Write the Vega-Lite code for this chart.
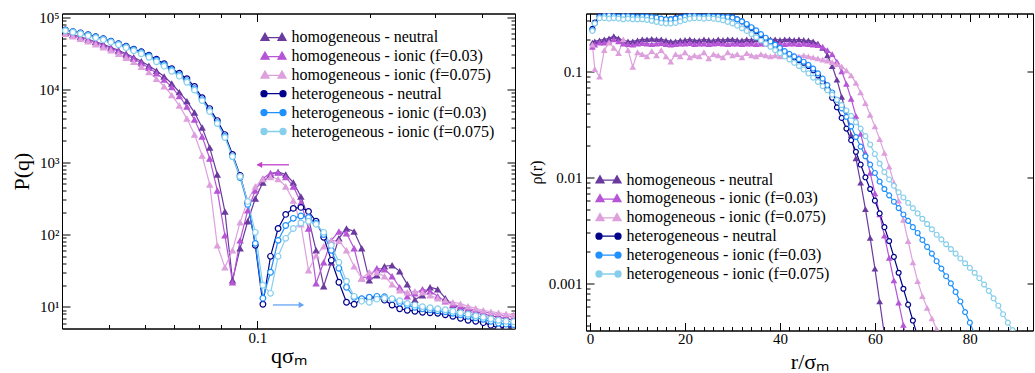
{
"$schema":"https://vega.github.io/schema/vega-lite/v6.json",
"background":"white",
"padding":{"left":9,"top":6.5,"right":0,"bottom":0},
"spacing":11,
"columns":2,
"align":"none",
"config":{
"font":"Liberation Serif",
"view":{"stroke":"black","strokeWidth":1},
"axis":{"domainColor":"black","domainWidth":1,"tickColor":"black","tickWidth":1,"labelColor":"black","titleColor":"black","labelFont":"Liberation Serif","titleFont":"Liberation Serif","labelFontSize":15,"titleFontSize":22,"titleFontWeight":"normal","grid":false,"labelOverlap":false,"labelFlush":false},
"legend":{"labelFont":"Liberation Serif","labelFontSize":16,"labelColor":"black","labelLimit":0}
},
"resolve":{"legend":{"color":"independent"}},
"datasets":{
"L":[
{"s":"h0","x":0.03062,"y":60800},{"s":"h0","x":0.03209,"y":57000},{"s":"h0","x":0.03363,"y":53500},{"s":"h0","x":0.03524,"y":49500},{"s":"h0","x":0.03693,"y":45700},{"s":"h0","x":0.0387,"y":42200},{"s":"h0","x":0.04056,"y":38400},{"s":"h0","x":0.04251,"y":34900},{"s":"h0","x":0.04455,"y":31200},{"s":"h0","x":0.04668,"y":27900},{"s":"h0","x":0.04892,"y":24600},{"s":"h0","x":0.05127,"y":21300},{"s":"h0","x":0.05373,"y":18200},{"s":"h0","x":0.05631,"y":15100},{"s":"h0","x":0.05901,"y":12100},{"s":"h0","x":0.06184,"y":9210},{"s":"h0","x":0.0648,"y":6920},{"s":"h0","x":0.06791,"y":4810},{"s":"h0","x":0.07117,"y":2990},{"s":"h0","x":0.07459,"y":1580},{"s":"h0","x":0.07816,"y":673},{"s":"h0","x":0.08191,"y":208},{"s":"h0","x":0.08584,"y":23.3},{"s":"h0","x":0.08996,"y":64.4},{"s":"h0","x":0.09428,"y":152},{"s":"h0","x":0.0988,"y":314},{"s":"h0","x":0.10354,"y":522},{"s":"h0","x":0.10851,"y":673},{"s":"h0","x":0.11371,"y":728},{"s":"h0","x":0.11917,"y":673},{"s":"h0","x":0.12489,"y":522},{"s":"h0","x":0.13088,"y":335},{"s":"h0","x":0.13716,"y":167},{"s":"h0","x":0.14373,"y":60.4},{"s":"h0","x":0.15063,"y":19.3},{"s":"h0","x":0.15786,"y":41.3},{"s":"h0","x":0.16543,"y":88.4},{"s":"h0","x":0.17336,"y":121},{"s":"h0","x":0.18168,"y":110},{"s":"h0","x":0.1904,"y":64.4},{"s":"h0","x":0.19953,"y":23.3},{"s":"h0","x":0.2091,"y":27.3},{"s":"h0","x":0.21914,"y":36.4},{"s":"h0","x":0.22965,"y":37.5},{"s":"h0","x":0.24067,"y":31},{"s":"h0","x":0.25221,"y":20.5},{"s":"h0","x":0.26431,"y":12.6},{"s":"h0","x":0.27699,"y":14.5},{"s":"h0","x":0.29028,"y":18.7},{"s":"h0","x":0.30421,"y":17.5},{"s":"h0","x":0.3188,"y":13.2},{"s":"h0","x":0.33409,"y":10.6},{"s":"h0","x":0.35012,"y":9.75},{"s":"h0","x":0.36692,"y":9.15},{"s":"h0","x":0.38452,"y":8.59},{"s":"h0","x":0.40297,"y":8.06},{"s":"h0","x":0.4223,"y":7.56},{"s":"h0","x":0.44256,"y":7.21},{"s":"h0","x":0.46379,"y":6.88},{"s":"h0","x":0.48604,"y":6.56},{"s":"h0","x":0.50935,"y":6.25},
{"s":"h3","x":0.03062,"y":59800},{"s":"h3","x":0.03209,"y":56100},{"s":"h3","x":0.03363,"y":52700},{"s":"h3","x":0.03524,"y":48700},{"s":"h3","x":0.03693,"y":45000},{"s":"h3","x":0.0387,"y":40900},{"s":"h3","x":0.04056,"y":37200},{"s":"h3","x":0.04251,"y":33800},{"s":"h3","x":0.04455,"y":29800},{"s":"h3","x":0.04668,"y":26600},{"s":"h3","x":0.04892,"y":23100},{"s":"h3","x":0.05127,"y":20000},{"s":"h3","x":0.05373,"y":16800},{"s":"h3","x":0.05631,"y":13700},{"s":"h3","x":0.05901,"y":10800},{"s":"h3","x":0.06184,"y":8110},{"s":"h3","x":0.0648,"y":5810},{"s":"h3","x":0.06791,"y":3850},{"s":"h3","x":0.07117,"y":2250},{"s":"h3","x":0.07459,"y":1120},{"s":"h3","x":0.07816,"y":405},{"s":"h3","x":0.08191,"y":97.2},{"s":"h3","x":0.08584,"y":21.9},{"s":"h3","x":0.08996,"y":82.9},{"s":"h3","x":0.09428,"y":215},{"s":"h3","x":0.0988,"y":405},{"s":"h3","x":0.10354,"y":593},{"s":"h3","x":0.10851,"y":705},{"s":"h3","x":0.11371,"y":717},{"s":"h3","x":0.11917,"y":622},{"s":"h3","x":0.12489,"y":460},{"s":"h3","x":0.13088,"y":277},{"s":"h3","x":0.13716,"y":121},{"s":"h3","x":0.14373,"y":21.2},{"s":"h3","x":0.15063,"y":41.3},{"s":"h3","x":0.15786,"y":82.9},{"s":"h3","x":0.16543,"y":110},{"s":"h3","x":0.17336,"y":104},{"s":"h3","x":0.18168,"y":64.4},{"s":"h3","x":0.1904,"y":24.9},{"s":"h3","x":0.19953,"y":26.5},{"s":"h3","x":0.2091,"y":34.1},{"s":"h3","x":0.21914,"y":33.1},{"s":"h3","x":0.22965,"y":26.5},{"s":"h3","x":0.24067,"y":18.7},{"s":"h3","x":0.25221,"y":14},{"s":"h3","x":0.26431,"y":15.4},{"s":"h3","x":0.27699,"y":17.5},{"s":"h3","x":0.29028,"y":16.5},{"s":"h3","x":0.30421,"y":14},{"s":"h3","x":0.3188,"y":12},{"s":"h3","x":0.33409,"y":10.9},{"s":"h3","x":0.35012,"y":10.2},{"s":"h3","x":0.36692,"y":9.6},{"s":"h3","x":0.38452,"y":9.01},{"s":"h3","x":0.40297,"y":8.59},{"s":"h3","x":0.4223,"y":8.19},{"s":"h3","x":0.44256,"y":7.81},{"s":"h3","x":0.46379,"y":7.56},{"s":"h3","x":0.48604,"y":7.33},{"s":"h3","x":0.50935,"y":7.1},
{"s":"h7","x":0.03062,"y":58900},{"s":"h7","x":0.03209,"y":54400},{"s":"h7","x":0.03363,"y":50200},{"s":"h7","x":0.03524,"y":46400},{"s":"h7","x":0.03693,"y":42200},{"s":"h7","x":0.0387,"y":38400},{"s":"h7","x":0.04056,"y":34900},{"s":"h7","x":0.04251,"y":31200},{"s":"h7","x":0.04455,"y":27500},{"s":"h7","x":0.04668,"y":24200},{"s":"h7","x":0.04892,"y":20700},{"s":"h7","x":0.05127,"y":17400},{"s":"h7","x":0.05373,"y":14100},{"s":"h7","x":0.05631,"y":11100},{"s":"h7","x":0.05901,"y":8370},{"s":"h7","x":0.06184,"y":6000},{"s":"h7","x":0.0648,"y":3970},{"s":"h7","x":0.06791,"y":2390},{"s":"h7","x":0.07117,"y":1230},{"s":"h7","x":0.07459,"y":490},{"s":"h7","x":0.07816,"y":70.8},{"s":"h7","x":0.08191,"y":35.2},{"s":"h7","x":0.08584,"y":60.4},{"s":"h7","x":0.08996,"y":147},{"s":"h7","x":0.09428,"y":295},{"s":"h7","x":0.0988,"y":460},{"s":"h7","x":0.10354,"y":583},{"s":"h7","x":0.10851,"y":622},{"s":"h7","x":0.11371,"y":583},{"s":"h7","x":0.11917,"y":460},{"s":"h7","x":0.12489,"y":295},{"s":"h7","x":0.13088,"y":138},{"s":"h7","x":0.13716,"y":32},{"s":"h7","x":0.14373,"y":51.5},{"s":"h7","x":0.15063,"y":68.6},{"s":"h7","x":0.15786,"y":82.9},{"s":"h7","x":0.16543,"y":81.6},{"s":"h7","x":0.17336,"y":60.4},{"s":"h7","x":0.18168,"y":36.4},{"s":"h7","x":0.1904,"y":24.9},{"s":"h7","x":0.19953,"y":30.1},{"s":"h7","x":0.2091,"y":30.1},{"s":"h7","x":0.21914,"y":26.5},{"s":"h7","x":0.22965,"y":20.5},{"s":"h7","x":0.24067,"y":17},{"s":"h7","x":0.25221,"y":15.9},{"s":"h7","x":0.26431,"y":16.5},{"s":"h7","x":0.27699,"y":15.9},{"s":"h7","x":0.29028,"y":14.5},{"s":"h7","x":0.30421,"y":13.2},{"s":"h7","x":0.3188,"y":12.4},{"s":"h7","x":0.33409,"y":11.6},{"s":"h7","x":0.35012,"y":11.1},{"s":"h7","x":0.36692,"y":10.2},{"s":"h7","x":0.38452,"y":9.6},{"s":"h7","x":0.40297,"y":9.01},{"s":"h7","x":0.4223,"y":8.59},{"s":"h7","x":0.44256,"y":8.32},{"s":"h7","x":0.46379,"y":8.06},{"s":"h7","x":0.48604,"y":7.81},{"s":"h7","x":0.50935,"y":7.69},
{"s":"e0","x":0.03062,"y":66200},{"s":"e0","x":0.03209,"y":63100},{"s":"e0","x":0.03363,"y":60200},{"s":"e0","x":0.03524,"y":57000},{"s":"e0","x":0.03693,"y":53500},{"s":"e0","x":0.0387,"y":50200},{"s":"e0","x":0.04056,"y":46400},{"s":"e0","x":0.04251,"y":42900},{"s":"e0","x":0.04455,"y":39600},{"s":"e0","x":0.04668,"y":36000},{"s":"e0","x":0.04892,"y":33300},{"s":"e0","x":0.05127,"y":29800},{"s":"e0","x":0.05373,"y":26200},{"s":"e0","x":0.05631,"y":22700},{"s":"e0","x":0.05901,"y":19400},{"s":"e0","x":0.06184,"y":16800},{"s":"e0","x":0.0648,"y":14100},{"s":"e0","x":0.06791,"y":11000},{"s":"e0","x":0.07117,"y":7730},{"s":"e0","x":0.07459,"y":5460},{"s":"e0","x":0.07816,"y":3730},{"s":"e0","x":0.08191,"y":2390},{"s":"e0","x":0.08584,"y":1270},{"s":"e0","x":0.08996,"y":652},{"s":"e0","x":0.09428,"y":277},{"s":"e0","x":0.0988,"y":70.8},{"s":"e0","x":0.10354,"y":10.9},{"s":"e0","x":0.10851,"y":49.9},{"s":"e0","x":0.11371,"y":121},{"s":"e0","x":0.11917,"y":189},{"s":"e0","x":0.12489,"y":229},{"s":"e0","x":0.13088,"y":236},{"s":"e0","x":0.13716,"y":208},{"s":"e0","x":0.14373,"y":152},{"s":"e0","x":0.15063,"y":91.2},{"s":"e0","x":0.15786,"y":44},{"s":"e0","x":0.16543,"y":21.9},{"s":"e0","x":0.17336,"y":11.6},{"s":"e0","x":0.18168,"y":10.9},{"s":"e0","x":0.1904,"y":12.8},{"s":"e0","x":0.19953,"y":13.4},{"s":"e0","x":0.2091,"y":13.4},{"s":"e0","x":0.21914,"y":12.4},{"s":"e0","x":0.22965,"y":10.6},{"s":"e0","x":0.24067,"y":9.45},{"s":"e0","x":0.25221,"y":9.01},{"s":"e0","x":0.26431,"y":8.73},{"s":"e0","x":0.27699,"y":8.45},{"s":"e0","x":0.29028,"y":8.32},{"s":"e0","x":0.30421,"y":8.19},{"s":"e0","x":0.3188,"y":7.81},{"s":"e0","x":0.33409,"y":7.44},{"s":"e0","x":0.35012,"y":6.99},{"s":"e0","x":0.36692,"y":6.56},{"s":"e0","x":0.38452,"y":6.35},{"s":"e0","x":0.40297,"y":6.06},{"s":"e0","x":0.4223,"y":5.6},{"s":"e0","x":0.44256,"y":5.09},{"s":"e0","x":0.46379,"y":5.25},{"s":"e0","x":0.48604,"y":5.34},{"s":"e0","x":0.50935,"y":5.25},
{"s":"e3","x":0.03062,"y":65800},{"s":"e3","x":0.03209,"y":62700},{"s":"e3","x":0.03363,"y":59800},{"s":"e3","x":0.03524,"y":56500},{"s":"e3","x":0.03693,"y":53000},{"s":"e3","x":0.0387,"y":49800},{"s":"e3","x":0.04056,"y":46000},{"s":"e3","x":0.04251,"y":42500},{"s":"e3","x":0.04455,"y":39000},{"s":"e3","x":0.04668,"y":35400},{"s":"e3","x":0.04892,"y":32500},{"s":"e3","x":0.05127,"y":29000},{"s":"e3","x":0.05373,"y":25400},{"s":"e3","x":0.05631,"y":22000},{"s":"e3","x":0.05901,"y":18800},{"s":"e3","x":0.06184,"y":16000},{"s":"e3","x":0.0648,"y":13300},{"s":"e3","x":0.06791,"y":10300},{"s":"e3","x":0.07117,"y":7260},{"s":"e3","x":0.07459,"y":5120},{"s":"e3","x":0.07816,"y":3500},{"s":"e3","x":0.08191,"y":2250},{"s":"e3","x":0.08584,"y":1190},{"s":"e3","x":0.08996,"y":612},{"s":"e3","x":0.09428,"y":260},{"s":"e3","x":0.0988,"y":75.4},{"s":"e3","x":0.10354,"y":13.2},{"s":"e3","x":0.10851,"y":30.1},{"s":"e3","x":0.11371,"y":82.9},{"s":"e3","x":0.11917,"y":133},{"s":"e3","x":0.12489,"y":167},{"s":"e3","x":0.13088,"y":180},{"s":"e3","x":0.13716,"y":172},{"s":"e3","x":0.14373,"y":142},{"s":"e3","x":0.15063,"y":100},{"s":"e3","x":0.15786,"y":60.4},{"s":"e3","x":0.16543,"y":34.1},{"s":"e3","x":0.17336,"y":18.7},{"s":"e3","x":0.18168,"y":13.6},{"s":"e3","x":0.1904,"y":13},{"s":"e3","x":0.19953,"y":13.6},{"s":"e3","x":0.2091,"y":14},{"s":"e3","x":0.21914,"y":13.8},{"s":"e3","x":0.22965,"y":12.8},{"s":"e3","x":0.24067,"y":11.4},{"s":"e3","x":0.25221,"y":10.6},{"s":"e3","x":0.26431,"y":9.91},{"s":"e3","x":0.27699,"y":9.45},{"s":"e3","x":0.29028,"y":9.15},{"s":"e3","x":0.30421,"y":8.87},{"s":"e3","x":0.3188,"y":8.59},{"s":"e3","x":0.33409,"y":8.19},{"s":"e3","x":0.35012,"y":7.81},{"s":"e3","x":0.36692,"y":7.44},{"s":"e3","x":0.38452,"y":7.1},{"s":"e3","x":0.40297,"y":6.77},{"s":"e3","x":0.4223,"y":6.35},{"s":"e3","x":0.44256,"y":5.96},{"s":"e3","x":0.46379,"y":5.78},{"s":"e3","x":0.48604,"y":5.7},{"s":"e3","x":0.50935,"y":5.6},
{"s":"e7","x":0.03062,"y":64800},{"s":"e7","x":0.03209,"y":61800},{"s":"e7","x":0.03363,"y":58900},{"s":"e7","x":0.03524,"y":55300},{"s":"e7","x":0.03693,"y":51900},{"s":"e7","x":0.0387,"y":48700},{"s":"e7","x":0.04056,"y":45000},{"s":"e7","x":0.04251,"y":41500},{"s":"e7","x":0.04455,"y":37800},{"s":"e7","x":0.04668,"y":34300},{"s":"e7","x":0.04892,"y":31200},{"s":"e7","x":0.05127,"y":27900},{"s":"e7","x":0.05373,"y":24200},{"s":"e7","x":0.05631,"y":21000},{"s":"e7","x":0.05901,"y":17900},{"s":"e7","x":0.06184,"y":15300},{"s":"e7","x":0.0648,"y":12600},{"s":"e7","x":0.06791,"y":9810},{"s":"e7","x":0.07117,"y":7030},{"s":"e7","x":0.07459,"y":4960},{"s":"e7","x":0.07816,"y":3390},{"s":"e7","x":0.08191,"y":2180},{"s":"e7","x":0.08584,"y":1190},{"s":"e7","x":0.08996,"y":631},{"s":"e7","x":0.09428,"y":286},{"s":"e7","x":0.0988,"y":107},{"s":"e7","x":0.10354,"y":19.9},{"s":"e7","x":0.10851,"y":15.4},{"s":"e7","x":0.11371,"y":49.9},{"s":"e7","x":0.11917,"y":88.4},{"s":"e7","x":0.12489,"y":121},{"s":"e7","x":0.13088,"y":144},{"s":"e7","x":0.13716,"y":152},{"s":"e7","x":0.14373,"y":138},{"s":"e7","x":0.15063,"y":107},{"s":"e7","x":0.15786,"y":70.8},{"s":"e7","x":0.16543,"y":41.3},{"s":"e7","x":0.17336,"y":22.6},{"s":"e7","x":0.18168,"y":14},{"s":"e7","x":0.1904,"y":12},{"s":"e7","x":0.19953,"y":11.6},{"s":"e7","x":0.2091,"y":12.8},{"s":"e7","x":0.21914,"y":13.2},{"s":"e7","x":0.22965,"y":13},{"s":"e7","x":0.24067,"y":12.2},{"s":"e7","x":0.25221,"y":11.2},{"s":"e7","x":0.26431,"y":10.6},{"s":"e7","x":0.27699,"y":10.1},{"s":"e7","x":0.29028,"y":9.75},{"s":"e7","x":0.30421,"y":9.45},{"s":"e7","x":0.3188,"y":9.15},{"s":"e7","x":0.33409,"y":8.73},{"s":"e7","x":0.35012,"y":8.32},{"s":"e7","x":0.36692,"y":7.93},{"s":"e7","x":0.38452,"y":7.56},{"s":"e7","x":0.40297,"y":7.21},{"s":"e7","x":0.4223,"y":6.88},{"s":"e7","x":0.44256,"y":6.56},{"s":"e7","x":0.46379,"y":6.35},{"s":"e7","x":0.48604,"y":6.25},{"s":"e7","x":0.50935,"y":6.16}
],
"R":[
{"s":"h0","x":0.5,"y":0.186},{"s":"h0","x":1,"y":0.191},{"s":"h0","x":2,"y":0.195},{"s":"h0","x":3,"y":0.2},{"s":"h0","x":4,"y":0.204},{"s":"h0","x":5,"y":0.214},{"s":"h0","x":6,"y":0.204},{"s":"h0","x":7,"y":0.195},{"s":"h0","x":8,"y":0.191},{"s":"h0","x":9,"y":0.191},{"s":"h0","x":10,"y":0.195},{"s":"h0","x":11,"y":0.2},{"s":"h0","x":12,"y":0.2},{"s":"h0","x":13,"y":0.202},{"s":"h0","x":14,"y":0.2},{"s":"h0","x":15,"y":0.2},{"s":"h0","x":16,"y":0.195},{"s":"h0","x":17,"y":0.191},{"s":"h0","x":18,"y":0.191},{"s":"h0","x":19,"y":0.195},{"s":"h0","x":20,"y":0.197},{"s":"h0","x":21,"y":0.2},{"s":"h0","x":22,"y":0.195},{"s":"h0","x":23,"y":0.195},{"s":"h0","x":24,"y":0.2},{"s":"h0","x":25,"y":0.197},{"s":"h0","x":26,"y":0.195},{"s":"h0","x":27,"y":0.2},{"s":"h0","x":28,"y":0.197},{"s":"h0","x":29,"y":0.2},{"s":"h0","x":30,"y":0.2},{"s":"h0","x":31,"y":0.197},{"s":"h0","x":32,"y":0.195},{"s":"h0","x":33,"y":0.2},{"s":"h0","x":34,"y":0.197},{"s":"h0","x":35,"y":0.2},{"s":"h0","x":36,"y":0.2},{"s":"h0","x":37,"y":0.197},{"s":"h0","x":38,"y":0.2},{"s":"h0","x":39,"y":0.2},{"s":"h0","x":40,"y":0.197},{"s":"h0","x":41,"y":0.2},{"s":"h0","x":42,"y":0.2},{"s":"h0","x":43,"y":0.197},{"s":"h0","x":44,"y":0.2},{"s":"h0","x":45,"y":0.197},{"s":"h0","x":46,"y":0.195},{"s":"h0","x":47,"y":0.191},{"s":"h0","x":48,"y":0.182},{"s":"h0","x":49,"y":0.166},{"s":"h0","x":50,"y":0.141},{"s":"h0","x":51,"y":0.112},{"s":"h0","x":52,"y":0.0832},{"s":"h0","x":53,"y":0.0575},{"s":"h0","x":54,"y":0.0389},{"s":"h0","x":55,"y":0.0251},{"s":"h0","x":56,"y":0.0151},{"s":"h0","x":57,"y":0.00891},{"s":"h0","x":58,"y":0.00501},{"s":"h0","x":59,"y":0.00269},{"s":"h0","x":60,"y":0.00138},{"s":"h0","x":61,"y":0.000676},{"s":"h0","x":62,"y":0.000331},
{"s":"h3","x":0.5,"y":0.17},{"s":"h3","x":1,"y":0.178},{"s":"h3","x":2,"y":0.186},{"s":"h3","x":3,"y":0.186},{"s":"h3","x":4,"y":0.191},{"s":"h3","x":5,"y":0.2},{"s":"h3","x":6,"y":0.191},{"s":"h3","x":7,"y":0.182},{"s":"h3","x":8,"y":0.18},{"s":"h3","x":9,"y":0.178},{"s":"h3","x":10,"y":0.182},{"s":"h3","x":11,"y":0.184},{"s":"h3","x":12,"y":0.182},{"s":"h3","x":13,"y":0.18},{"s":"h3","x":14,"y":0.182},{"s":"h3","x":15,"y":0.184},{"s":"h3","x":16,"y":0.18},{"s":"h3","x":17,"y":0.178},{"s":"h3","x":18,"y":0.18},{"s":"h3","x":19,"y":0.182},{"s":"h3","x":20,"y":0.182},{"s":"h3","x":21,"y":0.184},{"s":"h3","x":22,"y":0.18},{"s":"h3","x":23,"y":0.182},{"s":"h3","x":24,"y":0.182},{"s":"h3","x":25,"y":0.18},{"s":"h3","x":26,"y":0.182},{"s":"h3","x":27,"y":0.184},{"s":"h3","x":28,"y":0.182},{"s":"h3","x":29,"y":0.18},{"s":"h3","x":30,"y":0.182},{"s":"h3","x":31,"y":0.182},{"s":"h3","x":32,"y":0.18},{"s":"h3","x":33,"y":0.182},{"s":"h3","x":34,"y":0.182},{"s":"h3","x":35,"y":0.18},{"s":"h3","x":36,"y":0.182},{"s":"h3","x":37,"y":0.182},{"s":"h3","x":38,"y":0.18},{"s":"h3","x":39,"y":0.182},{"s":"h3","x":40,"y":0.182},{"s":"h3","x":41,"y":0.18},{"s":"h3","x":42,"y":0.182},{"s":"h3","x":43,"y":0.182},{"s":"h3","x":44,"y":0.18},{"s":"h3","x":45,"y":0.182},{"s":"h3","x":46,"y":0.18},{"s":"h3","x":47,"y":0.178},{"s":"h3","x":48,"y":0.176},{"s":"h3","x":49,"y":0.17},{"s":"h3","x":50,"y":0.158},{"s":"h3","x":51,"y":0.145},{"s":"h3","x":52,"y":0.123},{"s":"h3","x":53,"y":0.1},{"s":"h3","x":54,"y":0.0759},{"s":"h3","x":55,"y":0.055},{"s":"h3","x":56,"y":0.038},{"s":"h3","x":57,"y":0.0257},{"s":"h3","x":58,"y":0.017},{"s":"h3","x":59,"y":0.011},{"s":"h3","x":60,"y":0.00708},{"s":"h3","x":61,"y":0.00447},{"s":"h3","x":62,"y":0.00282},{"s":"h3","x":63,"y":0.00174},{"s":"h3","x":64,"y":0.00107},{"s":"h3","x":65,"y":0.000661},{"s":"h3","x":66,"y":0.000407},{"s":"h3","x":67,"y":0.000251},
{"s":"h7","x":0.5,"y":0.178},{"s":"h7","x":1,"y":0.105},{"s":"h7","x":2,"y":0.0891},{"s":"h7","x":3,"y":0.158},{"s":"h7","x":4,"y":0.186},{"s":"h7","x":5,"y":0.166},{"s":"h7","x":6,"y":0.148},{"s":"h7","x":7,"y":0.2},{"s":"h7","x":8,"y":0.158},{"s":"h7","x":9,"y":0.11},{"s":"h7","x":10,"y":0.151},{"s":"h7","x":11,"y":0.145},{"s":"h7","x":12,"y":0.138},{"s":"h7","x":13,"y":0.155},{"s":"h7","x":14,"y":0.141},{"s":"h7","x":15,"y":0.158},{"s":"h7","x":16,"y":0.138},{"s":"h7","x":17,"y":0.123},{"s":"h7","x":18,"y":0.145},{"s":"h7","x":19,"y":0.138},{"s":"h7","x":20,"y":0.151},{"s":"h7","x":21,"y":0.135},{"s":"h7","x":22,"y":0.141},{"s":"h7","x":23,"y":0.138},{"s":"h7","x":24,"y":0.151},{"s":"h7","x":25,"y":0.132},{"s":"h7","x":26,"y":0.145},{"s":"h7","x":27,"y":0.141},{"s":"h7","x":28,"y":0.135},{"s":"h7","x":29,"y":0.151},{"s":"h7","x":30,"y":0.141},{"s":"h7","x":31,"y":0.145},{"s":"h7","x":32,"y":0.135},{"s":"h7","x":33,"y":0.148},{"s":"h7","x":34,"y":0.141},{"s":"h7","x":35,"y":0.138},{"s":"h7","x":36,"y":0.145},{"s":"h7","x":37,"y":0.141},{"s":"h7","x":38,"y":0.138},{"s":"h7","x":39,"y":0.141},{"s":"h7","x":40,"y":0.138},{"s":"h7","x":41,"y":0.141},{"s":"h7","x":42,"y":0.14},{"s":"h7","x":43,"y":0.141},{"s":"h7","x":44,"y":0.138},{"s":"h7","x":45,"y":0.141},{"s":"h7","x":46,"y":0.138},{"s":"h7","x":47,"y":0.135},{"s":"h7","x":48,"y":0.132},{"s":"h7","x":49,"y":0.129},{"s":"h7","x":50,"y":0.126},{"s":"h7","x":51,"y":0.122},{"s":"h7","x":52,"y":0.117},{"s":"h7","x":53,"y":0.111},{"s":"h7","x":54,"y":0.102},{"s":"h7","x":55,"y":0.0912},{"s":"h7","x":56,"y":0.0776},{"s":"h7","x":57,"y":0.0631},{"s":"h7","x":58,"y":0.0501},{"s":"h7","x":59,"y":0.0389},{"s":"h7","x":60,"y":0.0302},{"s":"h7","x":61,"y":0.0229},{"s":"h7","x":62,"y":0.017},{"s":"h7","x":63,"y":0.0126},{"s":"h7","x":64,"y":0.00891},{"s":"h7","x":65,"y":0.00603},{"s":"h7","x":66,"y":0.00398},{"s":"h7","x":67,"y":0.00251},{"s":"h7","x":68,"y":0.00158},{"s":"h7","x":69,"y":0.00105},{"s":"h7","x":70,"y":0.000759},{"s":"h7","x":71,"y":0.000589},{"s":"h7","x":72,"y":0.000468},{"s":"h7","x":73,"y":0.000372},{"s":"h7","x":74,"y":0.000295},
{"s":"e0","x":0.5,"y":0.251},{"s":"e0","x":1,"y":0.288},{"s":"e0","x":2,"y":0.331},{"s":"e0","x":3,"y":0.339},{"s":"e0","x":4,"y":0.339},{"s":"e0","x":5,"y":0.335},{"s":"e0","x":6,"y":0.331},{"s":"e0","x":7,"y":0.331},{"s":"e0","x":8,"y":0.335},{"s":"e0","x":9,"y":0.331},{"s":"e0","x":10,"y":0.327},{"s":"e0","x":11,"y":0.331},{"s":"e0","x":12,"y":0.331},{"s":"e0","x":13,"y":0.324},{"s":"e0","x":14,"y":0.316},{"s":"e0","x":15,"y":0.309},{"s":"e0","x":16,"y":0.305},{"s":"e0","x":17,"y":0.309},{"s":"e0","x":18,"y":0.316},{"s":"e0","x":19,"y":0.324},{"s":"e0","x":20,"y":0.331},{"s":"e0","x":21,"y":0.335},{"s":"e0","x":22,"y":0.335},{"s":"e0","x":23,"y":0.331},{"s":"e0","x":24,"y":0.331},{"s":"e0","x":25,"y":0.335},{"s":"e0","x":26,"y":0.331},{"s":"e0","x":27,"y":0.331},{"s":"e0","x":28,"y":0.327},{"s":"e0","x":29,"y":0.324},{"s":"e0","x":30,"y":0.324},{"s":"e0","x":31,"y":0.309},{"s":"e0","x":32,"y":0.295},{"s":"e0","x":33,"y":0.275},{"s":"e0","x":34,"y":0.257},{"s":"e0","x":35,"y":0.237},{"s":"e0","x":36,"y":0.219},{"s":"e0","x":37,"y":0.202},{"s":"e0","x":38,"y":0.186},{"s":"e0","x":39,"y":0.174},{"s":"e0","x":40,"y":0.162},{"s":"e0","x":41,"y":0.151},{"s":"e0","x":42,"y":0.143},{"s":"e0","x":43,"y":0.135},{"s":"e0","x":44,"y":0.127},{"s":"e0","x":45,"y":0.12},{"s":"e0","x":46,"y":0.112},{"s":"e0","x":47,"y":0.102},{"s":"e0","x":48,"y":0.0912},{"s":"e0","x":49,"y":0.0794},{"s":"e0","x":50,"y":0.0676},{"s":"e0","x":51,"y":0.0562},{"s":"e0","x":52,"y":0.0457},{"s":"e0","x":53,"y":0.0363},{"s":"e0","x":54,"y":0.0288},{"s":"e0","x":55,"y":0.0224},{"s":"e0","x":56,"y":0.0174},{"s":"e0","x":57,"y":0.0132},{"s":"e0","x":58,"y":0.01},{"s":"e0","x":59,"y":0.00776},{"s":"e0","x":60,"y":0.00603},{"s":"e0","x":61,"y":0.00457},{"s":"e0","x":62,"y":0.00339},{"s":"e0","x":63,"y":0.00251},{"s":"e0","x":64,"y":0.00178},{"s":"e0","x":65,"y":0.00126},{"s":"e0","x":66,"y":0.000891},{"s":"e0","x":67,"y":0.000631},{"s":"e0","x":68,"y":0.000447},{"s":"e0","x":69,"y":0.000316},
{"s":"e3","x":0.5,"y":0.245},{"s":"e3","x":1,"y":0.282},{"s":"e3","x":2,"y":0.324},{"s":"e3","x":3,"y":0.331},{"s":"e3","x":4,"y":0.335},{"s":"e3","x":5,"y":0.331},{"s":"e3","x":6,"y":0.327},{"s":"e3","x":7,"y":0.331},{"s":"e3","x":8,"y":0.331},{"s":"e3","x":9,"y":0.327},{"s":"e3","x":10,"y":0.324},{"s":"e3","x":11,"y":0.327},{"s":"e3","x":12,"y":0.327},{"s":"e3","x":13,"y":0.324},{"s":"e3","x":14,"y":0.32},{"s":"e3","x":15,"y":0.313},{"s":"e3","x":16,"y":0.309},{"s":"e3","x":17,"y":0.309},{"s":"e3","x":18,"y":0.313},{"s":"e3","x":19,"y":0.32},{"s":"e3","x":20,"y":0.327},{"s":"e3","x":21,"y":0.331},{"s":"e3","x":22,"y":0.331},{"s":"e3","x":23,"y":0.327},{"s":"e3","x":24,"y":0.327},{"s":"e3","x":25,"y":0.331},{"s":"e3","x":26,"y":0.327},{"s":"e3","x":27,"y":0.327},{"s":"e3","x":28,"y":0.324},{"s":"e3","x":29,"y":0.324},{"s":"e3","x":30,"y":0.32},{"s":"e3","x":31,"y":0.309},{"s":"e3","x":32,"y":0.295},{"s":"e3","x":33,"y":0.279},{"s":"e3","x":34,"y":0.26},{"s":"e3","x":35,"y":0.243},{"s":"e3","x":36,"y":0.224},{"s":"e3","x":37,"y":0.207},{"s":"e3","x":38,"y":0.191},{"s":"e3","x":39,"y":0.178},{"s":"e3","x":40,"y":0.166},{"s":"e3","x":41,"y":0.155},{"s":"e3","x":42,"y":0.146},{"s":"e3","x":43,"y":0.138},{"s":"e3","x":44,"y":0.13},{"s":"e3","x":45,"y":0.123},{"s":"e3","x":46,"y":0.115},{"s":"e3","x":47,"y":0.106},{"s":"e3","x":48,"y":0.0955},{"s":"e3","x":49,"y":0.0851},{"s":"e3","x":50,"y":0.0741},{"s":"e3","x":51,"y":0.0631},{"s":"e3","x":52,"y":0.0537},{"s":"e3","x":53,"y":0.0447},{"s":"e3","x":54,"y":0.0372},{"s":"e3","x":55,"y":0.0302},{"s":"e3","x":56,"y":0.024},{"s":"e3","x":57,"y":0.0195},{"s":"e3","x":58,"y":0.0158},{"s":"e3","x":59,"y":0.0132},{"s":"e3","x":60,"y":0.011},{"s":"e3","x":61,"y":0.00912},{"s":"e3","x":62,"y":0.00776},{"s":"e3","x":63,"y":0.00676},{"s":"e3","x":64,"y":0.00589},{"s":"e3","x":65,"y":0.00513},{"s":"e3","x":66,"y":0.00447},{"s":"e3","x":67,"y":0.00389},{"s":"e3","x":68,"y":0.00339},{"s":"e3","x":69,"y":0.00299},{"s":"e3","x":70,"y":0.00257},{"s":"e3","x":71,"y":0.00221},{"s":"e3","x":72,"y":0.00191},{"s":"e3","x":73,"y":0.00162},{"s":"e3","x":74,"y":0.00138},{"s":"e3","x":75,"y":0.00117},{"s":"e3","x":76,"y":0.001},{"s":"e3","x":77,"y":0.000832},{"s":"e3","x":78,"y":0.000676},{"s":"e3","x":79,"y":0.000537},{"s":"e3","x":80,"y":0.000427},{"s":"e3","x":81,"y":0.000331},
{"s":"e7","x":0.5,"y":0.24},{"s":"e7","x":1,"y":0.282},{"s":"e7","x":2,"y":0.316},{"s":"e7","x":3,"y":0.316},{"s":"e7","x":4,"y":0.313},{"s":"e7","x":5,"y":0.316},{"s":"e7","x":6,"y":0.313},{"s":"e7","x":7,"y":0.309},{"s":"e7","x":8,"y":0.313},{"s":"e7","x":9,"y":0.309},{"s":"e7","x":10,"y":0.309},{"s":"e7","x":11,"y":0.309},{"s":"e7","x":12,"y":0.305},{"s":"e7","x":13,"y":0.299},{"s":"e7","x":14,"y":0.292},{"s":"e7","x":15,"y":0.285},{"s":"e7","x":16,"y":0.282},{"s":"e7","x":17,"y":0.282},{"s":"e7","x":18,"y":0.285},{"s":"e7","x":19,"y":0.295},{"s":"e7","x":20,"y":0.305},{"s":"e7","x":21,"y":0.313},{"s":"e7","x":22,"y":0.316},{"s":"e7","x":23,"y":0.316},{"s":"e7","x":24,"y":0.313},{"s":"e7","x":25,"y":0.316},{"s":"e7","x":26,"y":0.313},{"s":"e7","x":27,"y":0.309},{"s":"e7","x":28,"y":0.302},{"s":"e7","x":29,"y":0.292},{"s":"e7","x":30,"y":0.282},{"s":"e7","x":31,"y":0.269},{"s":"e7","x":32,"y":0.254},{"s":"e7","x":33,"y":0.24},{"s":"e7","x":34,"y":0.224},{"s":"e7","x":35,"y":0.209},{"s":"e7","x":36,"y":0.195},{"s":"e7","x":37,"y":0.182},{"s":"e7","x":38,"y":0.17},{"s":"e7","x":39,"y":0.158},{"s":"e7","x":40,"y":0.148},{"s":"e7","x":41,"y":0.138},{"s":"e7","x":42,"y":0.129},{"s":"e7","x":43,"y":0.12},{"s":"e7","x":44,"y":0.112},{"s":"e7","x":45,"y":0.104},{"s":"e7","x":46,"y":0.0955},{"s":"e7","x":47,"y":0.0871},{"s":"e7","x":48,"y":0.0794},{"s":"e7","x":49,"y":0.0724},{"s":"e7","x":50,"y":0.0661},{"s":"e7","x":51,"y":0.0603},{"s":"e7","x":52,"y":0.0537},{"s":"e7","x":53,"y":0.0479},{"s":"e7","x":54,"y":0.0427},{"s":"e7","x":55,"y":0.038},{"s":"e7","x":56,"y":0.0331},{"s":"e7","x":57,"y":0.0288},{"s":"e7","x":58,"y":0.0245},{"s":"e7","x":59,"y":0.0204},{"s":"e7","x":60,"y":0.0166},{"s":"e7","x":61,"y":0.0135},{"s":"e7","x":62,"y":0.0112},{"s":"e7","x":63,"y":0.00955},{"s":"e7","x":64,"y":0.00832},{"s":"e7","x":65,"y":0.00724},{"s":"e7","x":66,"y":0.00646},{"s":"e7","x":67,"y":0.00575},{"s":"e7","x":68,"y":0.00513},{"s":"e7","x":69,"y":0.00457},{"s":"e7","x":70,"y":0.00407},{"s":"e7","x":71,"y":0.00363},{"s":"e7","x":72,"y":0.00324},{"s":"e7","x":73,"y":0.00288},{"s":"e7","x":74,"y":0.0026},{"s":"e7","x":75,"y":0.00234},{"s":"e7","x":76,"y":0.00211},{"s":"e7","x":77,"y":0.00191},{"s":"e7","x":78,"y":0.00172},{"s":"e7","x":79,"y":0.00155},{"s":"e7","x":80,"y":0.0014},{"s":"e7","x":81,"y":0.00126},{"s":"e7","x":82,"y":0.00112},{"s":"e7","x":83,"y":0.000977},{"s":"e7","x":84,"y":0.000851},{"s":"e7","x":85,"y":0.000724},{"s":"e7","x":86,"y":0.000617},{"s":"e7","x":87,"y":0.000513},{"s":"e7","x":88,"y":0.000427},{"s":"e7","x":89,"y":0.000363},{"s":"e7","x":90,"y":0.000302}
]
},
"concat":[
{
"width":453,"height":315,
"data":{"name":"L"},
"layer":[
{"mark":{"type":"line","strokeWidth":1.2,"clip":true},
"encoding":{
"x":{"field":"x","type":"quantitative","scale":{"type":"log","domain":[0.03,0.49],"nice":false},
"axis":{"orient":"bottom","title":"qσₘ","values":[0.03,0.04,0.05,0.06,0.07,0.08,0.09,0.1,0.2,0.3,0.4],"labelExpr":"datum.value===0.1?'0.1':''","tickSize":{"condition":{"test":"datum.value===0.1","value":-8},"value":-4},"labelPadding":9.5,"titlePadding":-4}},
"y":{"field":"y","type":"quantitative","scale":{"type":"log","domain":[5.04,112000],"nice":false},
"axis":{"orient":"left","title":"P(q)","minExtent":25,"maxExtent":25,"values":[6,7,8,9,10,20,30,40,50,60,70,80,90,100,200,300,400,500,600,700,800,900,1000,2000,3000,4000,5000,6000,7000,8000,9000,10000,20000,30000,40000,50000,60000,70000,80000,90000,100000],"labelExpr":"datum.value===10?'10¹':datum.value===100?'10²':datum.value===1000?'10³':datum.value===10000?'10⁴':datum.value===100000?'10⁵':''","tickSize":{"condition":{"test":"datum.value===10||datum.value===100||datum.value===1000||datum.value===10000||datum.value===100000","value":-8},"value":-4},"labelPadding":11,"titlePadding":4}},
"color":{"field":"s","type":"nominal","scale":{"domain":["h0","h3","h7","e0","e3","e7"],"range":["#6a3a9f","#b655d6","#dda0dd","#00008b","#1e90ff","#87ceeb"]},
"legend":{"orient":"none","legendX":198,"legendY":15.5,"title":null,"symbolSize":625,"labelOffset":4.5,"clipHeight":16,"rowPadding":2.9,"symbolStrokeWidth":1.3,"labelFont":"Liberation Serif","labelFontSize":16,"labelLimit":0,"labelColor":"black",
"labelExpr":"datum.value==='h0'?'homogeneous - neutral':datum.value==='h3'?'homogeneous - ionic (f=0.03)':datum.value==='h7'?'homogeneous - ionic (f=0.075)':datum.value==='e0'?'heterogeneous - neutral':datum.value==='e3'?'heterogeneous - ionic (f=0.03)':'heterogeneous - ionic (f=0.075)'",
"encode":{"symbols":{"update":{
"shape":{"signal":"(datum.value==='e0'||datum.value==='e3'||datum.value==='e7')?'M-0.52,0L0.52,0M-0.52,0A0.24,0.24,0,1,0,-1,0A0.24,0.24,0,1,0,-0.52,0ZM1,0A0.24,0.24,0,1,0,0.52,0A0.24,0.24,0,1,0,1,0Z':'M-0.68,0.05L0.68,0.05M-0.68,-0.3L-0.36,0.26L-1,0.26ZM0.68,-0.3L1,0.26L0.36,0.26Z'"},
"fill":{"signal":"(datum.value==='e0'||datum.value==='e3'||datum.value==='e7')?'white':scale('color',datum.value)"},
"stroke":{"signal":"scale('color',datum.value)"},
"opacity":{"value":1},"fillOpacity":{"value":1},"strokeWidth":{"value":1.3}}}}}}
}},
{"transform":[{"filter":{"field":"s","oneOf":["h0","h3","h7"]}}],
"mark":{"type":"point","shape":"triangle-up","filled":true,"opacity":1,"size":56,"clip":true},
"encoding":{
"x":{"field":"x","type":"quantitative","axis":{"orient":"top","title":".","titleFontSize":6,"titleColor":"white","titlePadding":0,"labels":false,"values":[0.03,0.04,0.05,0.06,0.07,0.08,0.09,0.1,0.2,0.3,0.4],"tickSize":{"condition":{"test":"datum.value===0.1","value":-8},"value":-4}}},
"y":{"field":"y","type":"quantitative","axis":{"orient":"right","title":null,"labels":false,"values":[6,7,8,9,10,20,30,40,50,60,70,80,90,100,200,300,400,500,600,700,800,900,1000,2000,3000,4000,5000,6000,7000,8000,9000,10000,20000,30000,40000,50000,60000,70000,80000,90000,100000],"tickSize":{"condition":{"test":"datum.value===10||datum.value===100||datum.value===1000||datum.value===10000||datum.value===100000","value":-8},"value":-4}}},
"color":{"field":"s","type":"nominal","legend":null}}},
{"transform":[{"filter":{"field":"s","oneOf":["e0","e3","e7"]}}],
"mark":{"type":"point","shape":"circle","filled":false,"fill":"white","opacity":1,"size":32,"strokeWidth":1.2,"clip":true},
"encoding":{
"x":{"field":"x","type":"quantitative","axis":null},
"y":{"field":"y","type":"quantitative","axis":null},
"color":{"field":"s","type":"nominal","legend":null}}},
{"data":{"values":[{"x":0.1216,"x2":0.1,"y":915,"c":"#c23fc9"},{"x":0.1102,"x2":0.132,"y":10.65,"c":"#64a5f5"}]},
"mark":{"type":"rule","strokeWidth":1.3},
"encoding":{"x":{"field":"x","type":"quantitative","axis":null},"x2":{"field":"x2"},"y":{"field":"y","type":"quantitative","axis":null},"stroke":{"field":"c","type":"nominal","scale":null}}},
{"data":{"values":[{"x":0.10137,"y":915,"c":"#c23fc9","sh":"triangle-left"},{"x":0.1313,"y":10.65,"c":"#64a5f5","sh":"triangle-right"}]},
"mark":{"type":"point","filled":true,"opacity":1,"size":40},
"encoding":{"x":{"field":"x","type":"quantitative","axis":null},"y":{"field":"y","type":"quantitative","axis":null},"fill":{"field":"c","type":"nominal","scale":null},"shape":{"field":"sh","type":"nominal","scale":null}}}
]
},
{
"width":447,"height":317,
"data":{"name":"R"},
"layer":[
{"mark":{"type":"line","strokeWidth":1.2,"clip":true},
"encoding":{
"x":{"field":"x","type":"quantitative","scale":{"domain":[-0.85,93.3],"nice":false,"zero":false},
"axis":{"orient":"bottom","title":"r/σₘ","values":[0,2,4,6,8,10,12,14,16,18,20,22,24,26,28,30,32,34,36,38,40,42,44,46,48,50,52,54,56,58,60,62,64,66,68,70,72,74,76,78,80,82,84,86,88,90,92],"labelExpr":"datum.value%20===0?datum.label:''","tickSize":{"condition":{"test":"datum.value%20===0","value":-8},"value":-4},"labelPadding":9,"titlePadding":1}},
"y":{"field":"y","type":"quantitative","scale":{"type":"log","domain":[0.00036,0.35],"nice":false},
"axis":{"orient":"left","title":"ρ(r)","titleFontSize":16,"minExtent":39,"maxExtent":39,"values":[0.0004,0.0005,0.0006,0.0007,0.0008,0.0009,0.001,0.002,0.003,0.004,0.005,0.006,0.007,0.008,0.009,0.01,0.02,0.03,0.04,0.05,0.06,0.07,0.08,0.09,0.1,0.2,0.3],"labelExpr":"datum.value===0.001?'0.001':datum.value===0.01?'0.01':datum.value===0.1?'0.1':''","tickSize":{"condition":{"test":"datum.value===0.001||datum.value===0.01||datum.value===0.1","value":-8},"value":-4},"labelPadding":12,"titlePadding":3}},
"color":{"field":"s","type":"nominal","scale":{"domain":["h0","h3","h7","e0","e3","e7"],"range":["#6a3a9f","#b655d6","#dda0dd","#00008b","#1e90ff","#87ceeb"]},
"legend":{"orient":"none","legendX":9,"legendY":158,"title":null,"symbolSize":625,"labelOffset":4.5,"clipHeight":16,"rowPadding":2.9,"symbolStrokeWidth":1.3,"labelFont":"Liberation Serif","labelFontSize":16,"labelLimit":0,"labelColor":"black",
"labelExpr":"datum.value==='h0'?'homogeneous - neutral':datum.value==='h3'?'homogeneous - ionic (f=0.03)':datum.value==='h7'?'homogeneous - ionic (f=0.075)':datum.value==='e0'?'heterogeneous - neutral':datum.value==='e3'?'heterogeneous - ionic (f=0.03)':'heterogeneous - ionic (f=0.075)'",
"encode":{"symbols":{"update":{
"shape":{"signal":"(datum.value==='e0'||datum.value==='e3'||datum.value==='e7')?'M-0.52,0L0.52,0M-0.52,0A0.24,0.24,0,1,0,-1,0A0.24,0.24,0,1,0,-0.52,0ZM1,0A0.24,0.24,0,1,0,0.52,0A0.24,0.24,0,1,0,1,0Z':'M-0.68,0.05L0.68,0.05M-0.68,-0.3L-0.36,0.26L-1,0.26ZM0.68,-0.3L1,0.26L0.36,0.26Z'"},
"fill":{"signal":"(datum.value==='e0'||datum.value==='e3'||datum.value==='e7')?'white':scale('color',datum.value)"},
"stroke":{"signal":"scale('color',datum.value)"},
"opacity":{"value":1},"fillOpacity":{"value":1},"strokeWidth":{"value":1.3}}}}}}
}},
{"transform":[{"filter":{"field":"s","oneOf":["h0","h3","h7"]}}],
"mark":{"type":"point","shape":"triangle-up","filled":true,"opacity":1,"size":45,"clip":true},
"encoding":{
"x":{"field":"x","type":"quantitative","axis":{"orient":"top","title":null,"labels":false,"values":[0,2,4,6,8,10,12,14,16,18,20,22,24,26,28,30,32,34,36,38,40,42,44,46,48,50,52,54,56,58,60,62,64,66,68,70,72,74,76,78,80,82,84,86,88,90,92],"tickSize":{"condition":{"test":"datum.value%20===0","value":-8},"value":-4}}},
"y":{"field":"y","type":"quantitative","axis":{"orient":"right","title":null,"labels":false,"values":[0.001,0.01,0.1],"tickSize":-6}},
"color":{"field":"s","type":"nominal","legend":null}}},
{"transform":[{"filter":{"field":"s","oneOf":["e0","e3","e7"]}}],
"mark":{"type":"point","shape":"circle","filled":false,"fill":"white","opacity":1,"size":24,"strokeWidth":1.2,"clip":true},
"encoding":{
"x":{"field":"x","type":"quantitative","axis":null},
"y":{"field":"y","type":"quantitative","axis":null},
"color":{"field":"s","type":"nominal","legend":null}}}
]
}
]
}
